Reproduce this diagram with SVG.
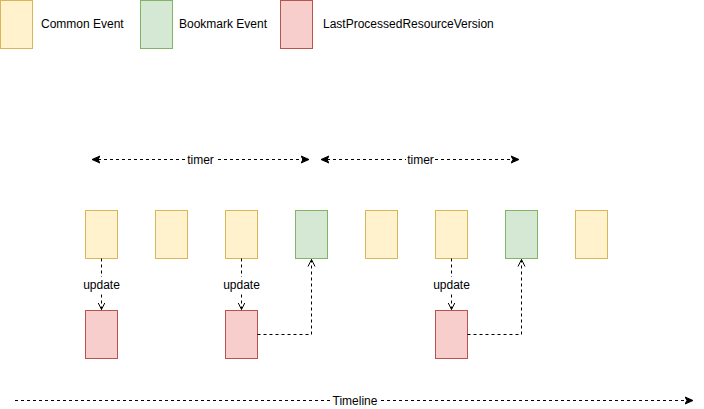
<svg xmlns="http://www.w3.org/2000/svg" width="704" height="409" viewBox="0 0 704 409">
<style>
.y{fill:#fff2cc;stroke:#d6b656;stroke-width:1}
.g{fill:#d5e8d4;stroke:#82b366;stroke-width:1}
.r{fill:#f8cecc;stroke:#b85450;stroke-width:1}
.t{font-family:"Liberation Sans",Arial,sans-serif;font-size:12px;fill:#000}
.c{text-anchor:middle}
.e{fill:none;stroke:#000;stroke-width:1;stroke-dasharray:3 3}
.bg{fill:#fff}
</style>
<defs>
<marker id="open" markerWidth="10" markerHeight="10" refX="7" refY="5" orient="auto" markerUnits="userSpaceOnUse">
<path d="M0,1.5 L7,5 L0,8.5" fill="none" stroke="#000" stroke-width="1"/>
</marker>
<marker id="cls" markerWidth="10" markerHeight="10" refX="8" refY="5" orient="auto-start-reverse" markerUnits="userSpaceOnUse">
<path d="M0,1.5 L8,5 L0,8.5 L2,5 Z" fill="#000" stroke="#000" stroke-width="1"/>
</marker>
</defs>
<g id="legend">
<g id="legend-common"><rect class="y" x="0.5" y="0.5" width="32" height="48"/><text class="t" x="41" y="28">Common Event</text></g>
<g id="legend-bookmark"><rect class="g" x="140.5" y="0.5" width="32" height="48"/><text class="t" x="179" y="28">Bookmark Event</text></g>
<g id="legend-lprv"><rect class="r" x="280.5" y="0.5" width="32" height="48"/><text class="t" x="323" y="28">LastProcessedResourceVersion</text></g>
</g>
<g id="e1"><rect class="y" x="85.5" y="210.5" width="32" height="48"/></g>
<g id="e2"><rect class="y" x="155.5" y="210.5" width="32" height="48"/></g>
<g id="e3"><rect class="y" x="225.5" y="210.5" width="32" height="48"/></g>
<g id="b1"><rect class="g" x="295.5" y="210.5" width="32" height="48"/></g>
<g id="e4"><rect class="y" x="365.5" y="210.5" width="32" height="48"/></g>
<g id="e5"><rect class="y" x="435.5" y="210.5" width="32" height="48"/></g>
<g id="b2"><rect class="g" x="505.5" y="210.5" width="32" height="48"/></g>
<g id="e6"><rect class="y" x="575.5" y="210.5" width="32" height="48"/></g>
<g id="r1"><rect class="r" x="85.5" y="310.5" width="32" height="48"/></g>
<g id="r2"><rect class="r" x="225.5" y="310.5" width="32" height="48"/></g>
<g id="r3"><rect class="r" x="435.5" y="310.5" width="32" height="48"/></g>
<g id="connectors">
<path class="e" d="M101.5,258.5 V309.5" marker-end="url(#open)"/>
<rect class="bg" x="81" y="277" width="41" height="15"/>
<text class="t c" x="101.5" y="289">update</text>
<path class="e" d="M241.5,258.5 V309.5" marker-end="url(#open)"/>
<rect class="bg" x="221" y="277" width="41" height="15"/>
<text class="t c" x="241.5" y="289">update</text>
<path class="e" d="M451.5,258.5 V309.5" marker-end="url(#open)"/>
<rect class="bg" x="431" y="277" width="41" height="15"/>
<text class="t c" x="451.5" y="289">update</text>
<path class="e" d="M257.5,334.5 H311.5 V259.5" marker-end="url(#open)"/>
<path class="e" d="M467.5,334.5 H521.5 V259.5" marker-end="url(#open)"/>
<path class="e" d="M92,159.5 H309" marker-start="url(#cls)" marker-end="url(#cls)"/>
<rect class="bg" x="186" y="152" width="29" height="15"/>
<text class="t c" x="200.5" y="164">timer</text>
<path class="e" d="M321,159.5 H519" marker-start="url(#cls)" marker-end="url(#cls)"/>
<rect class="bg" x="406" y="152" width="29" height="15"/>
<text class="t c" x="420.5" y="164">timer</text>
<path class="e" d="M15,400.5 H693" marker-end="url(#cls)"/>
<rect class="bg" x="332" y="393" width="46" height="15"/>
<text class="t c" x="355" y="405">Timeline</text>
</g>
</svg>
